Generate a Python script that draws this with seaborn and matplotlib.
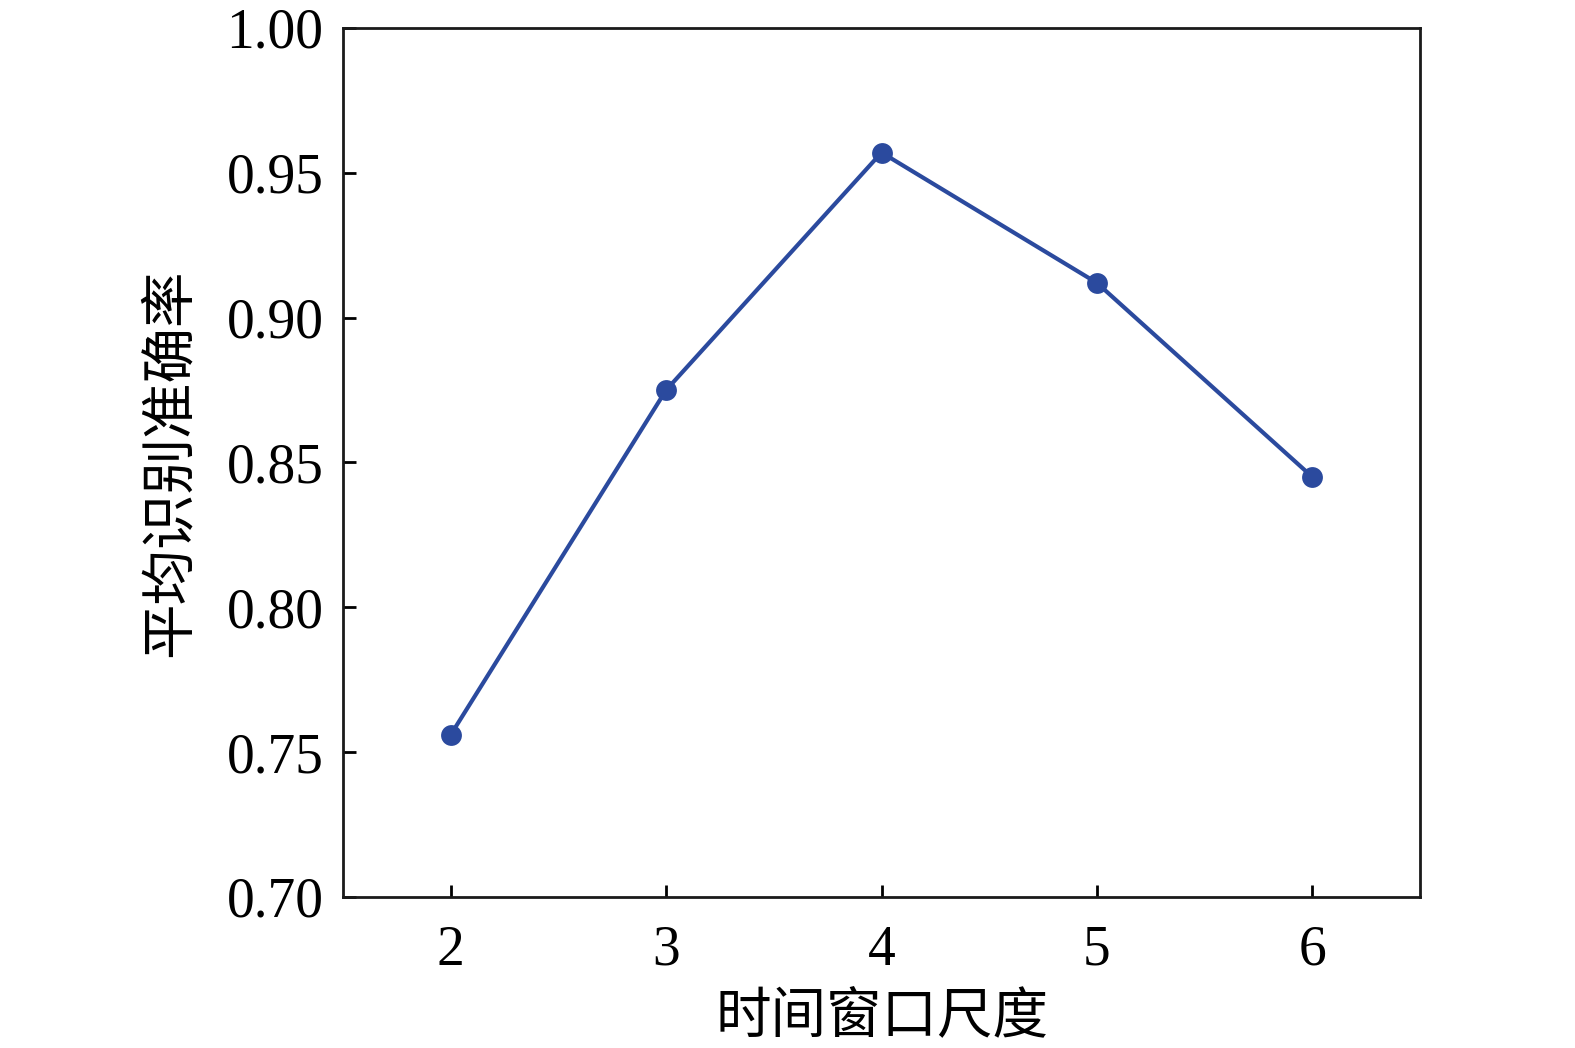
import seaborn as sns
import matplotlib.pyplot as plt
import pandas as pd

# time window sizes and mean recognition accuracy
window = [2, 3, 4, 5, 6]
accuracy = [0.756, 0.875, 0.957, 0.912, 0.845]
yticks = [0.70, 0.75, 0.80, 0.85, 0.90, 0.95, 1.00]

sns.set_style('ticks')
plt.rcParams['font.family'] = ['Liberation Serif', 'Noto Sans CJK SC']
plt.rcParams['xtick.direction'] = 'in'
plt.rcParams['ytick.direction'] = 'in'
plt.rcParams['text.color'] = 'black'
plt.rcParams['axes.labelcolor'] = 'black'
plt.rcParams['xtick.color'] = 'black'
plt.rcParams['ytick.color'] = 'black'

df = pd.DataFrame({'window': window, 'accuracy': accuracy})

fig = plt.figure(figsize=(15.75, 10.48), dpi=100)
ax = fig.add_axes([0.2178, 0.1441, 0.6838, 0.8292])

sns.lineplot(data=df, x='window', y='accuracy', ax=ax, color='#2b4a9e',
             marker='o', markersize=15, markeredgewidth=0, linewidth=3)

ax.set_xlim(1.5, 6.5)
ax.set_ylim(0.70, 1.00)
ax.set_xticks(window)
ax.set_yticks(yticks)
ax.set_yticklabels(['%.2f' % v for v in yticks])
ax.tick_params(labelsize=40, width=2, length=9)
ax.tick_params(axis='x', pad=20)
ax.tick_params(axis='y', pad=14)
for s in ax.spines.values():
    s.set_linewidth(2)
    s.set_color('#1a1a1a')

ax.set_xlabel('时间窗口尺度', fontsize=40, family=['Noto Sans CJK SC'], labelpad=8)
ax.set_ylabel('平均识别准确率', fontsize=40, family=['Noto Sans CJK SC'], labelpad=20)

fig.savefig('out.png', dpi=100)
